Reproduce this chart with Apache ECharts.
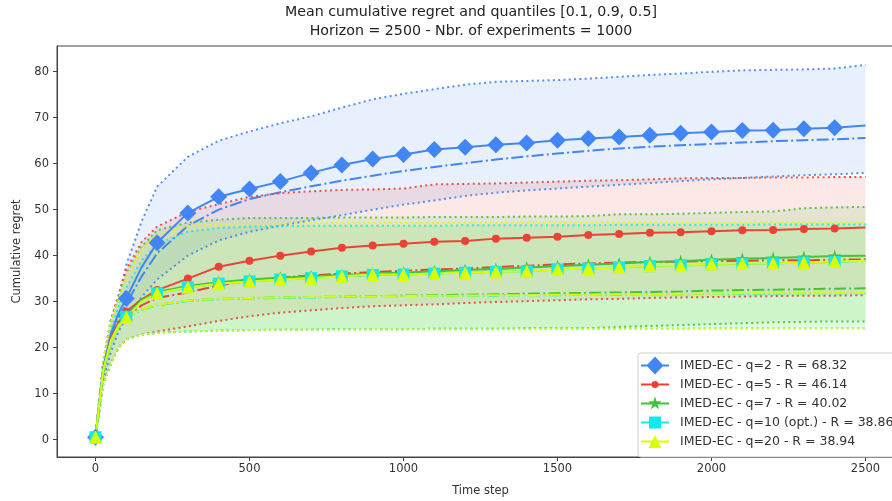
<!DOCTYPE html>
<html>
<head>
<meta charset="utf-8">
<script src="https://cdn.jsdelivr.net/npm/echarts@6/dist/echarts.min.js"></script>
<style>
html, body { margin: 0; padding: 0; background: #fff; }
#chart { width: 892px; height: 501px; }
</style>
</head>
<body>
<div id="chart"></div>
<script>
// time steps (markers every 100 steps)
var steps = [0, 25, 50, 75, 100, 150, 200, 300, 400, 500, 600, 700, 800, 900, 1000, 1100, 1200,
  1300, 1400, 1500, 1600, 1700, 1800, 1900, 2000, 2100, 2200, 2300, 2400, 2500];
var xTicks = [0, 500, 1000, 1500, 2000, 2500];
var yTicks = [0, 10, 20, 30, 40, 50, 60, 70, 80];

var names = ['IMED-EC - q=2 - R = 68.32', 'IMED-EC - q=5 - R = 46.14', 'IMED-EC - q=7 - R = 40.02',
  'IMED-EC - q=10 (opt.) - R = 38.86', 'IMED-EC - q=20 - R = 38.94'];
var colors = ['#4285f4', '#ea4335', '#3fc43a', '#12eaea', '#dcff00'];

// q=2
var meanQ2 = [0.5, 15.5, 23, 27.5, 30.7, 37.5, 42.8, 49.3, 52.8, 54.5, 56.1, 58, 59.7, 61, 62, 63.1, 63.6, 64.1, 64.5, 65.1, 65.5, 65.8, 66.2, 66.6, 66.9, 67.2, 67.3, 67.6, 67.8, 68.3];
var medQ2 = [0.5, 15, 22, 26.5, 29.5, 35.5, 40.5, 46.5, 50, 52.3, 53.8, 55.1, 56.3, 57.4, 58.4, 59.3, 60.1, 60.9, 61.6, 62.2, 62.8, 63.3, 63.7, 64, 64.3, 64.6, 64.9, 65.1, 65.3, 65.6];
var hiQ2 = [0.5, 17, 26, 31, 38, 47.5, 55, 61.5, 65, 67, 68.8, 70.3, 72.2, 74, 75.2, 76.2, 77.2, 77.8, 78, 78.2, 78.5, 78.9, 79.3, 79.6, 80, 80.3, 80.4, 80.5, 80.7, 81.5];
var loQ2 = [0.3, 13, 19, 23.5, 26.5, 31, 34.8, 40, 43.3, 45.2, 46.5, 47.7, 48.8, 50, 51.1, 52, 53, 53.7, 54.2, 54.6, 55, 55.4, 55.8, 56.2, 56.6, 56.9, 57.2, 57.5, 57.7, 58];
// q=5
var meanQ5 = [0.5, 15, 22, 25.5, 27.8, 30.5, 32.5, 35, 37.6, 38.9, 40, 40.9, 41.7, 42.2, 42.6, 43, 43.2, 43.7, 43.9, 44.1, 44.5, 44.7, 45, 45.1, 45.3, 45.5, 45.6, 45.8, 45.9, 46.1];
var medQ5 = [0.5, 15, 21.5, 24.8, 26.8, 29.2, 30.8, 32, 33.5, 34.6, 35.2, 35.7, 36.1, 36.4, 36.7, 37, 37.2, 37.5, 37.8, 38.1, 38.3, 38.5, 38.6, 38.7, 38.8, 38.9, 39, 39, 39.1, 39.2];
var hiQ5 = [0.5, 17, 26, 31.5, 37, 43, 46.3, 49.5, 51.2, 52.8, 53.6, 54, 54.3, 54.4, 54.6, 55.5, 55.6, 55.7, 55.9, 56.1, 56.3, 56.4, 56.6, 56.8, 56.9, 56.9, 57, 57, 57.1, 57.1];
var loQ5 = [0.3, 12, 16.5, 20, 21.8, 22.8, 23.5, 24.6, 25.8, 26.8, 27.6, 28.1, 28.6, 29, 29.2, 29.4, 29.7, 29.9, 30.1, 30.3, 30.5, 30.6, 30.8, 30.9, 31, 31.1, 31.2, 31.3, 31.3, 31.4];
// q=7
var meanQ7 = [0.5, 15, 21.5, 25, 27.1, 30.3, 32.1, 33.4, 34.2, 34.8, 35.2, 35.5, 35.8, 36.1, 36.3, 36.6, 36.9, 37.1, 37.4, 37.7, 38, 38.3, 38.6, 38.8, 39.1, 39.3, 39.5, 39.7, 39.9, 40];
var medQ7 = [0.5, 15, 21, 24.5, 26.5, 28.3, 29.3, 30.2, 30.6, 30.8, 30.9, 31, 31.1, 31.2, 31.3, 31.4, 31.5, 31.6, 31.7, 31.8, 31.9, 32, 32.1, 32.2, 32.4, 32.5, 32.6, 32.7, 32.8, 32.9];
var hiQ7 = [0.5, 17, 26, 31, 36, 42, 45.5, 47.2, 47.8, 48.2, 48.2, 48.2, 48.3, 48.3, 48.3, 48.4, 48.4, 48.4, 48.5, 48.5, 48.6, 49, 49, 49.1, 49.3, 49.5, 49.6, 50.3, 50.5, 50.6];
var loQ7 = [0.3, 12, 16.5, 20, 21.8, 22.8, 23.2, 23.5, 23.7, 23.8, 23.9, 23.9, 24, 24, 24, 24.1, 24.1, 24.1, 24.2, 24.2, 24.2, 24.5, 24.7, 24.9, 25.1, 25.3, 25.5, 25.6, 25.7, 25.7];
// q=10
var meanQ10 = [0.5, 15, 21.5, 24.8, 26.7, 30, 31.8, 33.1, 33.9, 34.4, 34.8, 35.1, 35.5, 35.8, 35.9, 36.1, 36.3, 36.5, 36.6, 37, 37.2, 37.4, 37.7, 37.8, 38.1, 38.2, 38.3, 38.5, 38.6, 38.9];
var medQ10 = [0.5, 15, 21, 24.5, 26.4, 28.2, 29.2, 30.1, 30.5, 30.7, 30.8, 30.9, 31, 31.1, 31.2, 31.2, 31.3, 31.3, 31.4, 31.4, 31.5, 31.5, 31.6, 31.6, 31.7, 31.7, 31.7, 31.8, 31.8, 31.8];
var hiQ10 = [0.5, 16, 24, 29, 33, 39, 42.5, 45.2, 46, 46.3, 46.4, 46.5, 46.5, 46.5, 46.5, 46.5, 46.6, 46.6, 46.6, 46.6, 46.6, 46.7, 46.7, 46.7, 46.7, 46.7, 46.8, 46.8, 46.8, 46.8];
var loQ10 = [0.3, 12, 16.5, 20, 21.8, 22.8, 23.2, 23.5, 23.7, 23.8, 23.9, 23.9, 24, 24, 24, 24, 24, 24, 24.1, 24.1, 24.1, 24.1, 24.1, 24.1, 24.2, 24.2, 24.2, 24.2, 24.2, 24.2];
// q=20
var meanQ20 = [0.5, 15, 21.5, 24.8, 26.6, 30, 31.8, 33.1, 33.9, 34.4, 34.8, 35.1, 35.5, 35.9, 35.9, 36.1, 36.3, 36.5, 36.6, 37, 37.2, 37.4, 37.8, 37.8, 38.2, 38.3, 38.3, 38.5, 38.7, 38.9];
var medQ20 = [0.5, 15, 21, 24.5, 26.5, 28.3, 29.3, 30.2, 30.6, 30.8, 30.9, 31, 31.1, 31.1, 31.2, 31.3, 31.3, 31.4, 31.4, 31.5, 31.5, 31.6, 31.6, 31.7, 31.7, 31.8, 31.8, 31.8, 31.9, 31.9];
var hiQ20 = [0.5, 17, 25.5, 30.5, 35.5, 41.5, 44.5, 46.5, 46.8, 47, 47, 47.1, 47.1, 47.1, 47.1, 47.1, 47.1, 47.1, 47.2, 47.2, 47.2, 47.2, 47.2, 47.2, 47.2, 47.2, 47.2, 47.2, 47.2, 47.2];
var loQ20 = [0.3, 12, 16.5, 20, 21.8, 22.8, 23.2, 23.5, 23.7, 23.8, 23.9, 23.9, 23.9, 24, 24, 24, 24, 24, 24, 24.1, 24.1, 24.1, 24.1, 24.1, 24.1, 24.1, 24.2, 24.2, 24.2, 24.2];

var STAR = 'path://M0,-1 L0.2245,-0.309 L0.951,-0.309 L0.363,0.118 L0.588,0.809 L0,0.382 L-0.588,0.809 L-0.363,0.118 L-0.951,-0.309 L-0.2245,-0.309 Z';
// legend icons: handle line + marker, box 34x19 (corner specks keep the box)
var CORNERS = 'M0,0 L0.01,0 L0,0.01 Z M34,19 L33.99,19 L34,18.99 Z ';
var LINE = 'M0,8.5 L28,8.5 L28,10.5 L0,10.5 Z ';
var icons = [
  'path://' + CORNERS + LINE + 'M14,0.5 L22.5,9.5 L14,18.5 L5.5,9.5 Z',
  'path://' + CORNERS + LINE + 'M17.5,9.5 A3.5,3.5 0 1 1 10.5,9.5 A3.5,3.5 0 1 1 17.5,9.5 Z',
  'path://' + CORNERS + LINE + 'M14,2.5 L15.57,7.34 L20.66,7.34 L16.54,10.33 L18.11,15.16 L14,12.17 L9.89,15.16 L11.46,10.33 L7.34,7.34 L12.43,7.34 Z',
  'path://' + CORNERS + LINE + 'M8,3.5 L20,3.5 L20,15.5 L8,15.5 Z',
  'path://' + CORNERS + LINE + 'M14,3 L20.5,16 L7.5,16 Z'
];

var policies = [
  { mean: meanQ2, med: medQ2, hi: hiQ2, lo: loQ2, symbol: 'diamond', size: 17 },
  { mean: meanQ5, med: medQ5, hi: hiQ5, lo: loQ5, symbol: 'circle', size: 8 },
  { mean: meanQ7, med: medQ7, hi: hiQ7, lo: loQ7, symbol: STAR, size: 13 },
  { mean: meanQ10, med: medQ10, hi: hiQ10, lo: loQ10, symbol: 'rect', size: 12 },
  { mean: meanQ20, med: medQ20, hi: hiQ20, lo: loQ20, symbol: 'triangle', size: 13 }
];

function rgba(hex, a) {
  var n = parseInt(hex.slice(1), 16);
  return 'rgba(' + (n >> 16) + ',' + ((n >> 8) & 255) + ',' + (n & 255) + ',' + a + ')';
}

function pairs(arr) {
  return steps.map(function (s, i) { return [s, arr[i]]; });
}

var series = [];

// shaded areas between 0.1 and 0.9 quantiles
policies.forEach(function (p, k) {
  series.push({
    name: names[k] + ' band',
    type: 'custom',
    z: 1,
    clip: true,
    silent: true,
    data: steps.map(function (s, i) { return [s, p.lo[i], p.hi[i]]; }),
    encode: { x: 0, y: [1, 2] },
    renderItem: function (params, api) {
      if (params.dataIndex !== 0) return;
      var pts = [];
      for (var i = 0; i < steps.length; i++) pts.push(api.coord([steps[i], p.hi[i]]));
      for (var j = steps.length - 1; j >= 0; j--) pts.push(api.coord([steps[j], p.lo[j]]));
      return { type: 'polygon', shape: { points: pts }, style: { fill: rgba(colors[k], 0.12) } };
    }
  });
});

// quantile lines
policies.forEach(function (p, k) {
  [p.lo, p.hi].forEach(function (arr, m) {
    series.push({
      name: names[k] + (m ? ' q90' : ' q10'),
      type: 'line', z: 2, symbol: 'none', silent: true,
      data: pairs(arr),
      lineStyle: { color: colors[k], width: 2, type: [2, 3.3], opacity: 0.9 }
    });
  });
  series.push({
    name: names[k] + ' median',
    type: 'line', z: 2, symbol: 'none', silent: true,
    data: pairs(p.med),
    lineStyle: { color: colors[k], width: 2, type: [12, 3.2, 2, 3.2] }
  });
});

// mean lines with markers
policies.forEach(function (p, k) {
  series.push({
    name: names[k],
    type: 'line', z: 3, silent: true,
    symbol: p.symbol, symbolSize: p.size,
    data: steps.map(function (s, i) {
      var item = { value: [s, p.mean[i]] };
      if (s % 100 !== 0 || s === 2500) item.symbol = 'none';
      return item;
    }),
    itemStyle: { color: colors[k], opacity: 1 },
    lineStyle: { color: colors[k], width: 2 }
  });
});

function plain(v) { return String(v); }

var font = 'DejaVu Sans';
var myChart = echarts.init(document.getElementById('chart'));
var option = {
  animation: false,
  backgroundColor: '#fff',
  title: {
    text: 'Mean cumulative regret and quantiles [0.1, 0.9, 0.5]\nHorizon = 2500 - Nbr. of experiments = 1000',
    left: 466, top: -2, textAlign: 'center',
    textStyle: { fontFamily: font, fontSize: 14.2, fontWeight: 'normal', color: '#222', lineHeight: 19 }
  },
  grid: {
    left: 57, top: 46, width: 847, bottom: 44,
    outerBoundsMode: 'none',
    show: true, borderColor: '#444', borderWidth: 1
  },
  legend: {
    orient: 'vertical', left: 638, top: 353,
    padding: [3, 6, 6, 3], itemWidth: 34, itemHeight: 19, itemGap: 0,
    backgroundColor: 'rgba(255,255,255,0.85)', borderColor: '#d0d0d0', borderWidth: 1, borderRadius: 3,
    selectedMode: false,
    itemStyle: { borderWidth: 0 },
    textStyle: { fontFamily: font, fontSize: 12.5, color: '#333' },
    data: names.map(function (n, k) { return { name: n, icon: icons[k] }; })
  },
  xAxis: {
    type: 'value', min: -125, max: 2625,
    name: 'Time step', nameLocation: 'middle', nameGap: 28,
    nameTextStyle: { fontFamily: font, fontSize: 11.5, color: '#333' },
    axisLine: { show: true, onZero: false, lineStyle: { color: '#444' } },
    axisTick: { show: true, length: 4, customValues: xTicks, lineStyle: { color: '#444' } },
    axisLabel: { customValues: xTicks, formatter: plain, fontFamily: font, fontSize: 11.5, color: '#333', margin: 6 },
    splitLine: { show: false }
  },
  yAxis: {
    type: 'value', min: -3.8, max: 85.6,
    name: 'Cumulative regret', nameLocation: 'middle', nameGap: 33,
    nameTextStyle: { fontFamily: font, fontSize: 11.5, color: '#333' },
    axisLine: { show: true, onZero: false, lineStyle: { color: '#444' } },
    axisTick: { show: true, length: 4, customValues: yTicks, lineStyle: { color: '#444' } },
    axisLabel: { customValues: yTicks, formatter: plain, fontFamily: font, fontSize: 11.5, color: '#333', margin: 8 },
    splitLine: { show: false }
  },
  series: series
};
myChart.setOption(option);
</script>
</body>
</html>
